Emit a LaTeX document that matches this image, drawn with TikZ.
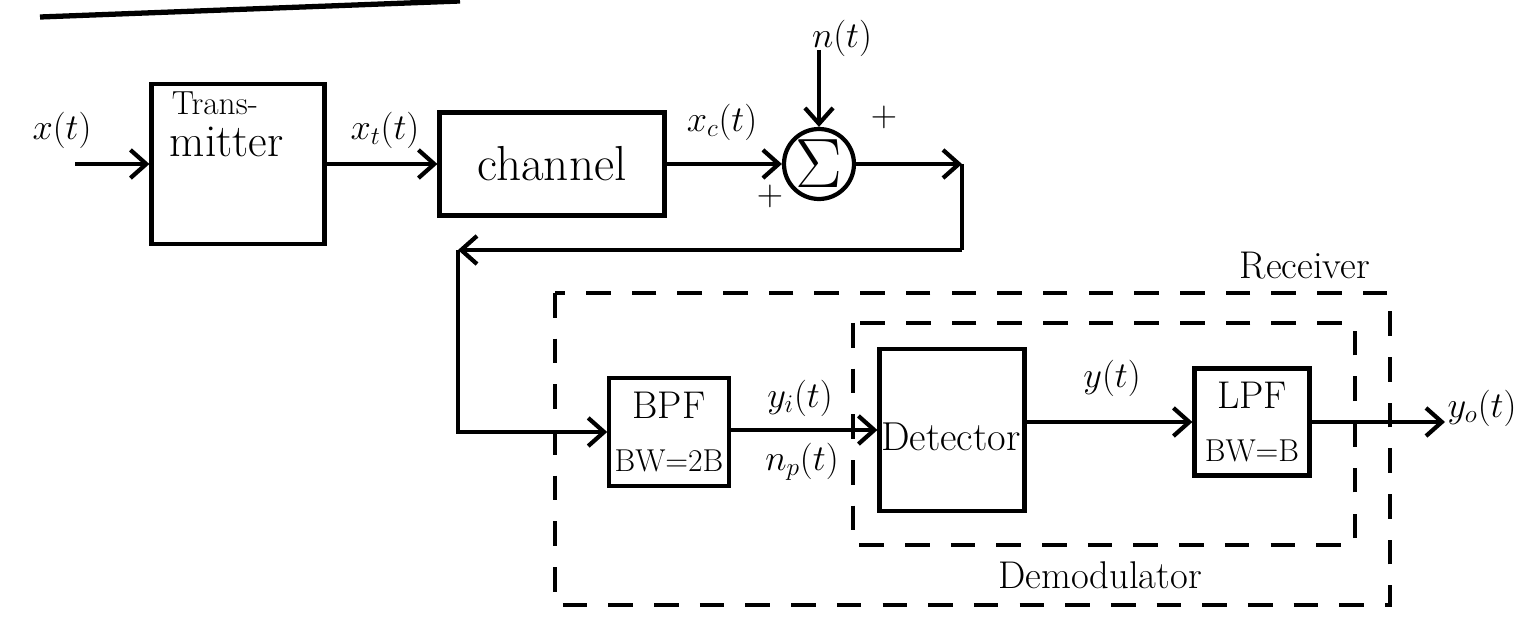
\documentclass[tikz,border=0pt]{standalone}
\usepackage{amsmath}
\usepackage{graphicx}
\usetikzlibrary{arrows.meta}
\begin{document}
\begin{tikzpicture}[x=0.02cm, y=-0.02cm, line width=2.4pt, >={Straight Barb[length=9pt,width=16pt]}]
    \tikzset{
        block/.style={draw, rectangle, line width=2.4pt, align=center, inner sep=3pt},
        sumnode/.style={draw, circle, line width=2.4pt, minimum size=1.4cm, inner sep=0pt},
        dashbox/.style={draw, dashed, line width=2.4pt, dash pattern=on 14pt off 12pt},
        lbl/.style={font=\fontsize{22}{24}\selectfont, inner sep=1pt}
    }
    \useasboundingbox (0,0) rectangle (1526,618);

    % stray underline at the top
    \draw[line width=3pt] (40,17) -- (460,1);

    % upper row
    \node[block, minimum width=3.46cm, minimum height=3.2cm] (tx) at (238,164) {};
    \node[lbl, anchor=west, font=\fontsize{19}{20}\selectfont] (txa) at (168,103) {Trans-};
    \node[lbl, anchor=west, font=\fontsize{26}{28}\selectfont] (txb) at (166,142) {mitter};
    \node[block, minimum width=4.5cm, minimum height=2.06cm, font=\fontsize{28}{30}\selectfont] (ch) at (552,164) {channel};
    \node[sumnode, font=\fontsize{24}{26}\selectfont] (sum) at (819,164) {\scalebox{1.6}{$\Sigma$}};

    \coordinate (in) at (75,164);
    \coordinate (nin) at (819,50);
    \coordinate (c1) at (962,164);
    \coordinate (c2) at (962,250);
    \coordinate (c3) at (458,250);

    % lower row
    \node[block, minimum width=2.36cm, minimum height=2.16cm, font=\fontsize{22}{30}\selectfont] (bpf) at (669,432) {BPF\\{\fontsize{18}{20}\selectfont BW=2B}};
    \node[block, minimum width=2.9cm, minimum height=3.24cm] (det) at (952,430) {};
    \node[lbl, anchor=west, font=\fontsize{23}{24}\selectfont] (dett) at (det.west) [yshift=-4pt] {Detector};
    \node[block, minimum width=2.3cm, minimum height=2.14cm, font=\fontsize{22}{30}\selectfont] (lpf) at (1252,422) {LPF\\{\fontsize{18}{20}\selectfont BW=B}};
    \coordinate (out) at (1445,422);

    % dashed enclosures
    \draw[dashbox] (555,293) rectangle (1390,605);
    \draw[dashbox] (853,323) rectangle (1355,545);
    \node[lbl] (rx) at (1305,266) {Receiver};
    \node[lbl] (dm) at (1100,575) {Demodulator};

    % connectors
    \draw[->] (in) -- (tx.west |- in);
    \draw[->] (tx.east) -- (ch.west);
    \draw[->] (ch.east) -- (sum.west);
    \draw[->] (nin) -- (sum.north);
    \draw[->] (sum.east) -- (c1);
    \draw (c1) -- (c2);
    \draw[->] (c2) -- (c3);
    \draw[->] (c3) |- (bpf.west);
    \draw[->] (bpf.east |- det.west) -- (det.west);
    \draw[->] (det.east |- lpf.west) -- (lpf.west);
    \draw[->] (lpf.east) -- (out);

    % signal labels
    \node[lbl] (lx) at (62,130) {$x(t)$};
    \node[lbl] (lxt) at (385,130) {$x_t(t)$};
    \node[lbl] (lxc) at (722,122) {$x_c(t)$};
    \node[lbl] (ln) at (842,38) {$n(t)$};
    \node[lbl] (pa) at (884,117) {$+$};
    \node[lbl] (pb) at (770,196) {$+$};
    \node[lbl] (lyi) at (800,398) {$y_i(t)$};
    \node[lbl] (lnp) at (802,462) {$n_p(t)$};
    \node[lbl] (ly) at (1112,378) {$y(t)$};
    \node[lbl] (lyo) at (1482,408) {$y_o(t)$};
\end{tikzpicture}
\end{document}
